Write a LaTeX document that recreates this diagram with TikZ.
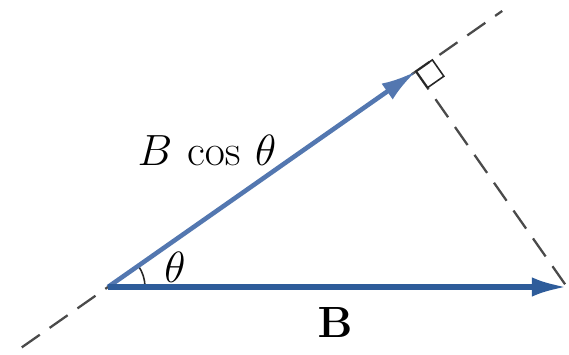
\documentclass[tikz,border=0pt]{standalone}
\usepackage{xcolor}
\usepackage{tikz}
\usetikzlibrary{arrows.meta,calc}
\definecolor{vecblue}{HTML}{2E5C9A}
\definecolor{projblue}{HTML}{5377B0}
\definecolor{guidegray}{HTML}{4A4A4A}
\tikzset{
  vecarrow/.style={-{Latex[length=20pt,width=11pt]}, line width=3pt, draw=vecblue},
  projarrow/.style={vecarrow, draw=projblue, line width=2.6pt},
  guideline/.style={draw=guidegray, line width=1.3pt, dash pattern=on 0.44cm off 0.24cm},
  marker/.style={draw=black!85, line width=0.9pt},
  veclabel/.style={font=\fontsize{23}{28}\selectfont, inner sep=1pt}
}

\begin{document}
\begin{tikzpicture}[x=0.02cm, y=0.02cm]
  \useasboundingbox (0,0) rectangle (569,355);

  \coordinate (O) at (108,68);
  \coordinate (Btip) at (567,68);
  \coordinate (dir) at ($(O)+(35:100)$);
  \coordinate (foot) at ($(O)!(Btip)!(dir)$);
  \coordinate (lowend) at ($(O)!-0.28!(foot)$);
  \coordinate (highend) at ($(O)!1.28!(foot)$);

  % dashed guides
  \draw[guideline] (lowend) -- (highend);
  \draw[guideline] (foot) -- (Btip);

  % right angle mark
  \begin{scope}[shift={(foot)}, rotate=35]
    \draw[marker] (0,0) rectangle (20,-20);
  \end{scope}

  \draw[marker] ($(O)+(37,0)$) arc[start angle=0, end angle=35, radius=37];

  \draw[projarrow] (O) -- (foot);
  \draw[vecarrow] (O) -- (Btip);

  \node[veclabel] (projlbl) at (207,205) {$B\,\cos\,\theta$};
  \node[veclabel] (anglelbl) at (175,88) {$\theta$};
  \node[veclabel] (Blbl) at (335,32) {$\mathbf{B}$};
\end{tikzpicture}
\end{document}
